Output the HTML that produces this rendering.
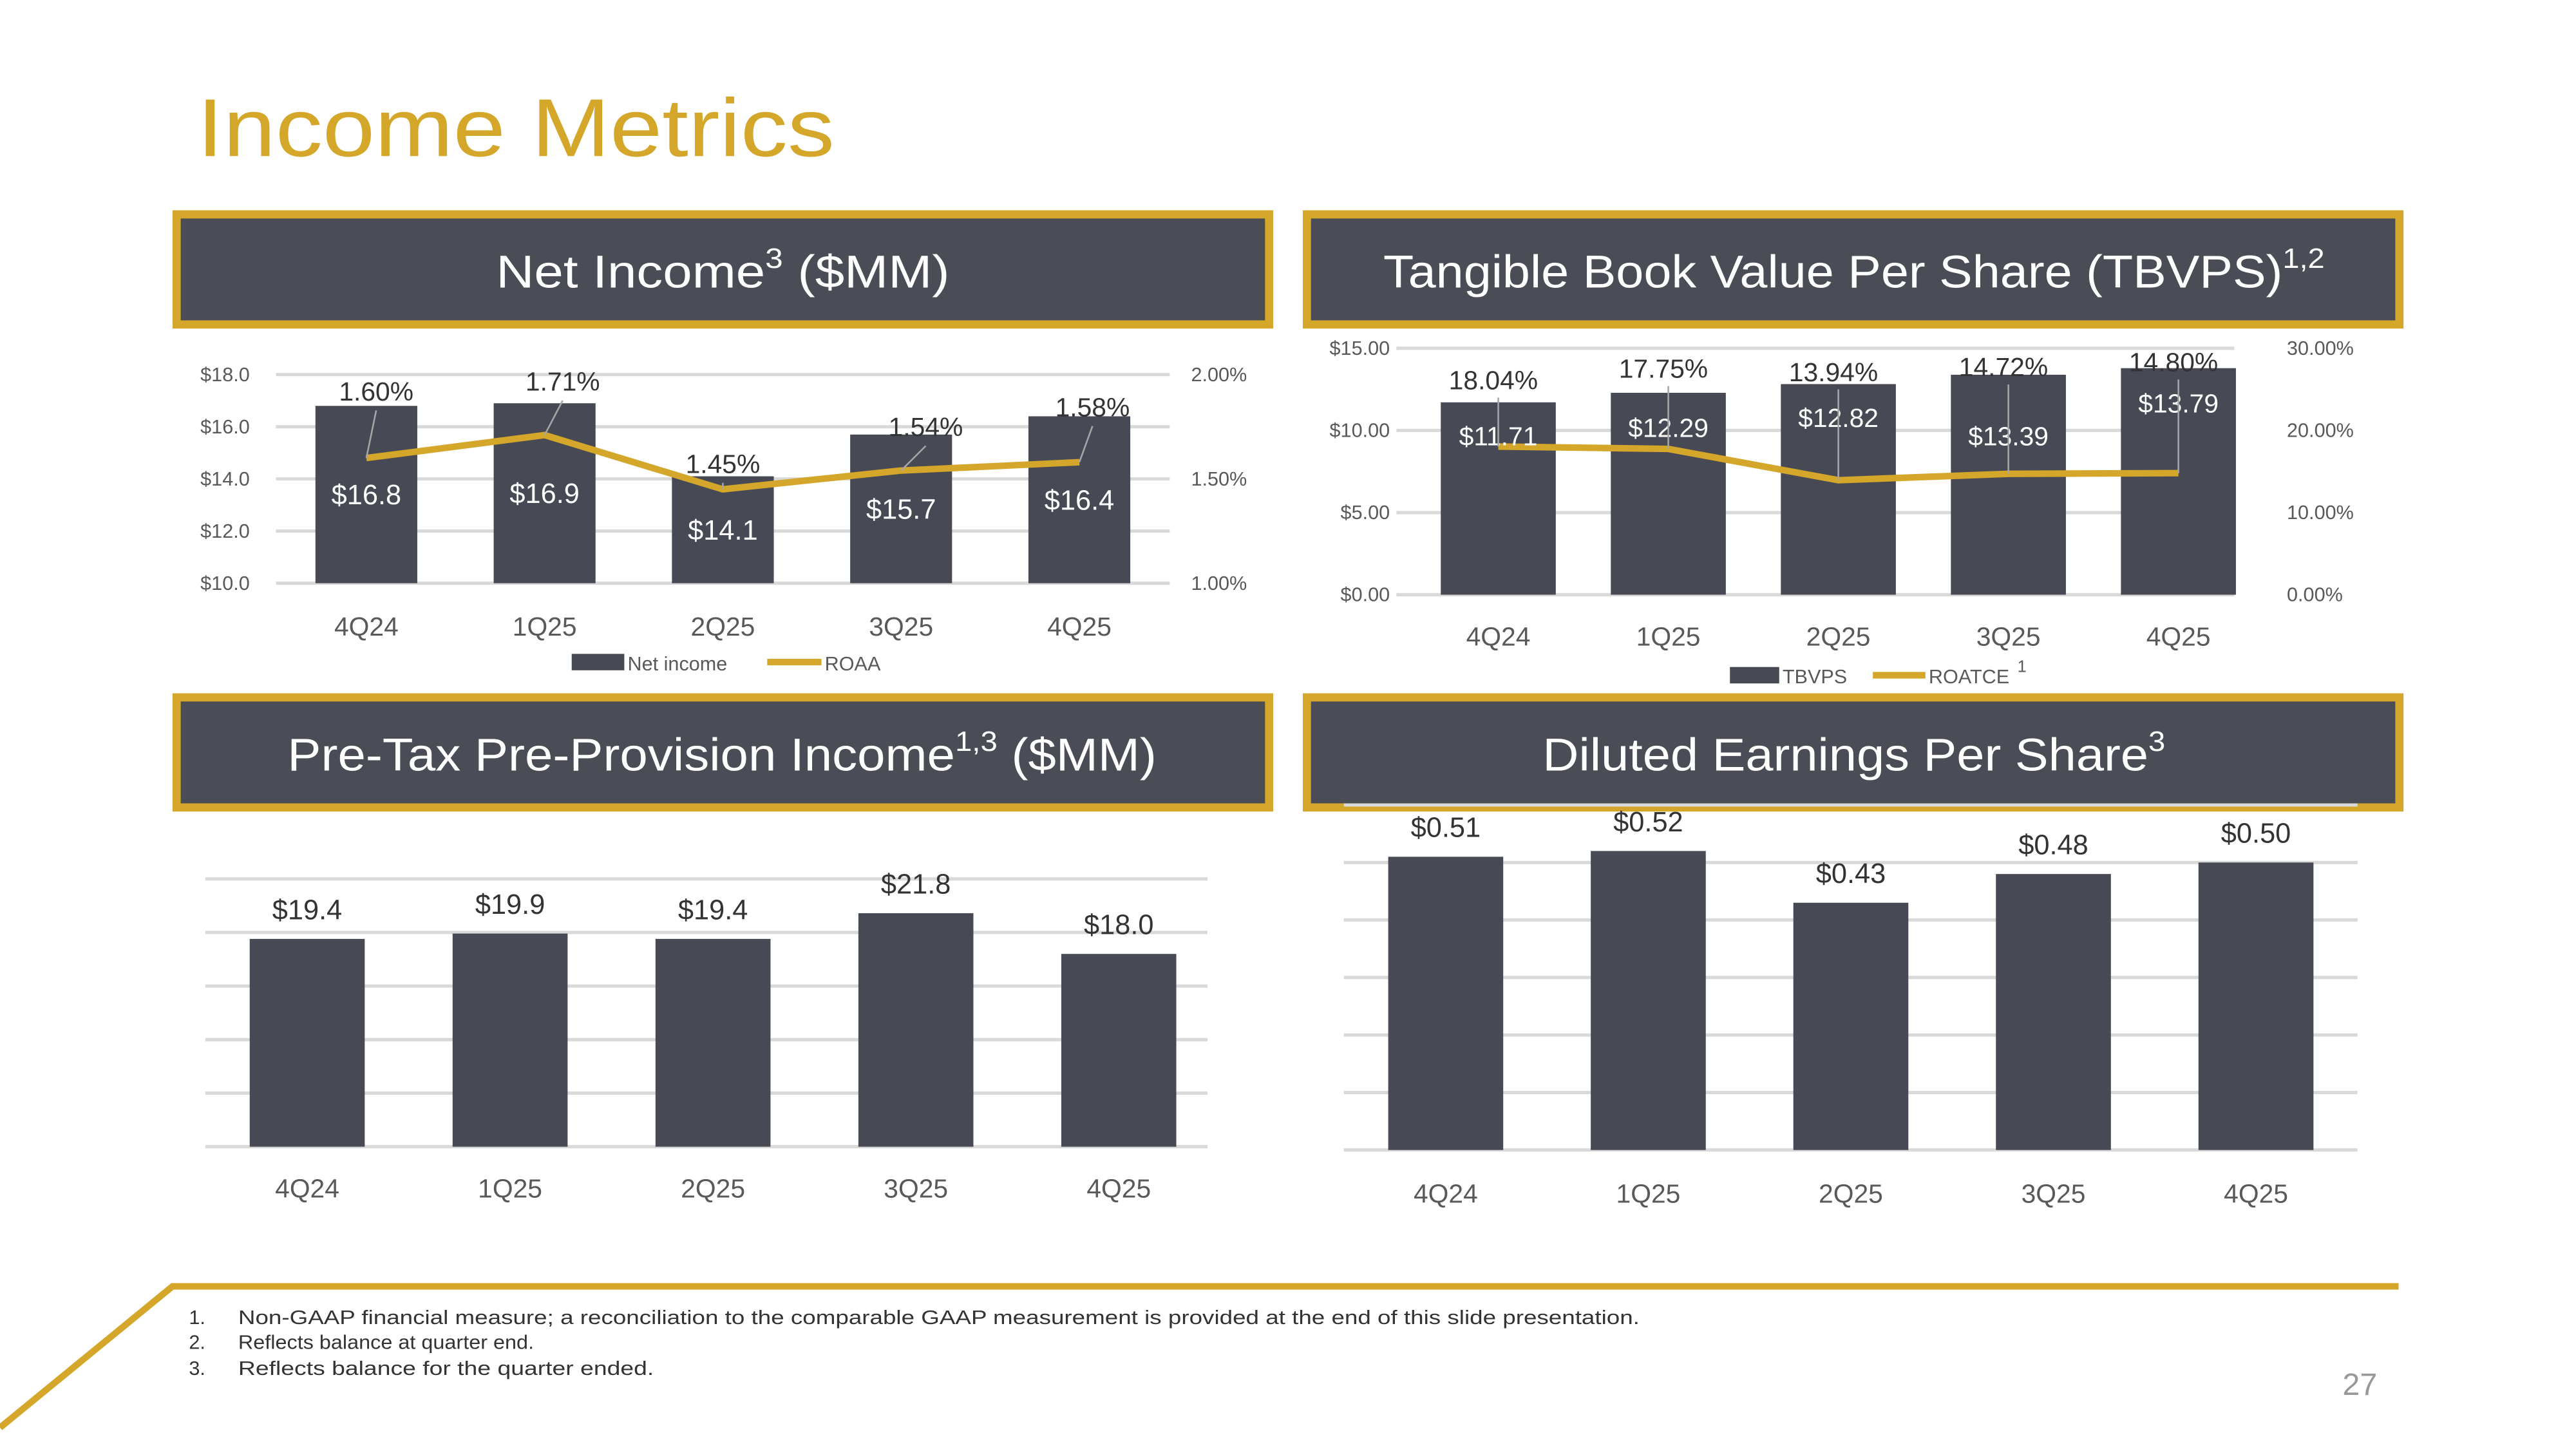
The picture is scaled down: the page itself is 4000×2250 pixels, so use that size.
<!DOCTYPE html>
<html><head><meta charset="utf-8">
<style>
html,body{margin:0;padding:0;background:#fff;}
svg{display:block;}
text{font-family:"Liberation Sans",sans-serif;}
</style></head>
<body>
<svg id="slide" width="4000" height="2250" viewBox="0 0 1568 882" xmlns="http://www.w3.org/2000/svg">
<text x="120" y="95" font-size="50" fill="#D4A62A" textLength="388" lengthAdjust="spacingAndGlyphs">Income Metrics</text>

<g>
<rect x="107.5" y="130.5" width="665" height="67" fill="#4A4D55" stroke="#D4A62A" stroke-width="5"/>
<text x="302" y="175" font-size="28" fill="#fff" textLength="276" lengthAdjust="spacingAndGlyphs">Net Income<tspan font-size="17" dy="-12">3</tspan><tspan dy="12"> ($MM)</tspan></text>
</g>
<g>
<rect x="795.5" y="130.5" width="665" height="67" fill="#4A4D55" stroke="#D4A62A" stroke-width="5"/>
<text x="842" y="175" font-size="28" fill="#fff" textLength="573" lengthAdjust="spacingAndGlyphs">Tangible Book Value Per Share (TBVPS)<tspan font-size="17" dy="-12">1,2</tspan></text>
</g>
<g>
<rect x="107.5" y="424.5" width="665" height="67" fill="#4A4D55" stroke="#D4A62A" stroke-width="5"/>
<text x="175" y="469" font-size="28" fill="#fff" textLength="529" lengthAdjust="spacingAndGlyphs">Pre-Tax Pre-Provision Income<tspan font-size="17" dy="-12">1,3</tspan><tspan dy="12"> ($MM)</tspan></text>
</g>
<g>
<rect x="795.5" y="424.5" width="665" height="67" fill="#4A4D55" stroke="#D4A62A" stroke-width="5"/>
<text x="939" y="469" font-size="28" fill="#fff" textLength="379" lengthAdjust="spacingAndGlyphs">Diluted Earnings Per Share<tspan font-size="17" dy="-12">3</tspan></text>
</g>

<g id="c1"></g>
<g id="c2"></g>
<g id="c3"></g>
<g id="c4"></g>

<g>
<polyline points="0,869 105,783 1460,783" fill="none" stroke="#D4A62A" stroke-width="4"/>
<g font-size="12" fill="#333">
<text x="115" y="806">1.</text><text x="145" y="806" textLength="853" lengthAdjust="spacingAndGlyphs">Non-GAAP financial measure; a reconciliation to the comparable GAAP measurement is provided at the end of this slide presentation.</text>
<text x="115" y="821">2.</text><text x="145" y="821" textLength="180" lengthAdjust="spacingAndGlyphs">Reflects balance at quarter end.</text>
<text x="115" y="837">3.</text><text x="145" y="837" textLength="253" lengthAdjust="spacingAndGlyphs">Reflects balance for the quarter ended.</text>
</g>
<text x="1447" y="849" text-anchor="end" font-size="19" fill="#999">27</text>
</g>
</svg>
<script>
const categories = ["4Q24","1Q25","2Q25","3Q25","4Q25"];
const netIncome = [16.8,16.9,14.1,15.7,16.4];
const roaa = [1.60,1.71,1.45,1.54,1.58];
const niTicks = [10,12,14,16,18];
const roaaTicks = [1.0,1.5,2.0];
const tbvps = [11.71,12.29,12.82,13.39,13.79];
const roatce = [18.04,17.75,13.94,14.72,14.80];
const tbTicks = [0,5,10,15];
const roatceTicks = [0,10,20,30];
const pretax = [19.4,19.9,19.4,21.8,18.0];
const ptGrid = [0,5,10,15,20,25];
const eps = [0.51,0.52,0.43,0.48,0.50];
const epsGrid = [0,0.1,0.2,0.3,0.4,0.5,0.6];

const NS="http://www.w3.org/2000/svg";
const DARK="#474A54", GOLD="#D4A62A", GRID="#D9D9D9", AX="#595959";
function mk(parent,tag,attrs,txt){const e=document.createElementNS(NS,tag);for(const k in attrs)e.setAttribute(k,attrs[k]);if(txt!==undefined)e.textContent=txt;parent.appendChild(e);return e;}
function lin(d0,d1,r0,r1){return v=>r0+(v-d0)*(r1-r0)/(d1-d0);}

// Chart 1
(function(){
 const g=document.getElementById('c1');
 const y=lin(10,18,355,228), y2=lin(1.0,2.0,355,228);
 const xs=i=>223+i*108.5, bw=62;
 niTicks.forEach(t=>{
  const l=mk(g,'line',{x1:168,x2:712,y1:y(t),y2:y(t),stroke:GRID,'stroke-width':2});
  
  
  const tx=mk(g,'text',{x:152,y:y(t)+4,'text-anchor':'end','font-size':12,fill:AX},'$'+t.toFixed(1));
  
  
 });
 roaaTicks.forEach(t=>{
  const tx=mk(g,'text',{x:725,y:y2(t)+4,'font-size':12,fill:AX},t.toFixed(2)+'%');
  
  
 });
 netIncome.forEach((v,i)=>{
  const r=mk(g,'rect',{x:xs(i)-bw/2,y:y(v),width:bw,height:y(10)-y(v),fill:DARK});
  
  
  const t=mk(g,'text',{x:xs(i),y:(y(v)+y(10))/2+6,'text-anchor':'middle','font-size':17,fill:'#fff'},'$'+v.toFixed(1));
  
  
  const c=mk(g,'text',{x:xs(i),y:387,'text-anchor':'middle','font-size':16,fill:AX},categories[i]);
  
  
 });
 const pts=roaa.map((v,i)=>xs(i)+','+y2(v)).join(' ');
 const pl=mk(g,'polyline',{points:pts,fill:'none',stroke:GOLD,'stroke-width':4});
 
 
 const off=[[6,-35],[11,-27],[0,-10],[15,-21],[8,-28]];
 roaa.forEach((v,i)=>{
  const lx=xs(i)+off[i][0], ly=y2(v)+off[i][1];
  mk(g,'line',{x1:xs(i),y1:y2(v),x2:lx,y2:ly+6,stroke:'#A6A6A6','stroke-width':1});
  const t=mk(g,'text',{x:lx,y:ly,'text-anchor':'middle','font-size':16,fill:'#333'},v.toFixed(2)+'%');
  
  
 });
 const lg=mk(g,'g',{});
 
 
 mk(lg,'rect',{x:348,y:398,width:32,height:10,fill:DARK});
 mk(lg,'text',{x:382,y:408,'font-size':12,fill:AX},'Net income');
 mk(lg,'line',{x1:467,x2:500,y1:403,y2:403,stroke:GOLD,'stroke-width':4});
 mk(lg,'text',{x:502,y:408,'font-size':12,fill:AX},'ROAA');
})();

// Chart 2
(function(){
 const g=document.getElementById('c2');
 const y=lin(0,15,362,212), y2=lin(0,30,362,212);
 const xs=i=>912+i*103.5, bw=70;
 tbTicks.forEach(t=>{
  const l=mk(g,'line',{x1:850,x2:1360,y1:y(t),y2:y(t),stroke:GRID,'stroke-width':2});
  
  
  const tx=mk(g,'text',{x:846,y:y(t)+4,'text-anchor':'end','font-size':12,fill:AX},'$'+t.toFixed(2));
  
  
 });
 roatceTicks.forEach(t=>{
  const tx=mk(g,'text',{x:1392,y:y2(t)+4,'font-size':12,fill:AX},t.toFixed(2)+'%');
  
  
 });
 tbvps.forEach((v,i)=>{
  const r=mk(g,'rect',{x:xs(i)-bw/2,y:y(v),width:bw,height:y(0)-y(v),fill:DARK});
  
  
  const c=mk(g,'text',{x:xs(i),y:393,'text-anchor':'middle','font-size':16,fill:AX},categories[i]);
  
  
 });
 const pts=roatce.map((v,i)=>xs(i)+','+y2(v)).join(' ');
 const pl=mk(g,'polyline',{points:pts,fill:'none',stroke:GOLD,'stroke-width':4});
 
 
 const valY=[271,266,260,271,251];
 tbvps.forEach((v,i)=>{
  const t=mk(g,'text',{x:xs(i),y:valY[i],'text-anchor':'middle','font-size':16,fill:'#fff'},'$'+v.toFixed(2));
  
  
 });
 const lblY=[237,230,232,229,226];
 roatce.forEach((v,i)=>{
  const ly=lblY[i];
  mk(g,'line',{x1:xs(i),y1:y2(v),x2:xs(i),y2:ly+5,stroke:'#A6A6A6','stroke-width':1});
  const t=mk(g,'text',{x:xs(i)-3,y:ly,'text-anchor':'middle','font-size':16,fill:'#333'},v.toFixed(2)+'%');
  
  
 });
 const lg=mk(g,'g',{});
 
 
 mk(lg,'rect',{x:1053,y:406,width:30,height:10,fill:DARK});
 mk(lg,'text',{x:1085,y:416,'font-size':12,fill:AX},'TBVPS');
 mk(lg,'line',{x1:1140,x2:1172,y1:411,y2:411,stroke:GOLD,'stroke-width':4});
 mk(lg,'text',{x:1174,y:416,'font-size':12,fill:AX},'ROATCE');
 mk(lg,'text',{x:1228,y:409,'font-size':10,fill:AX},'1');
})();

// Chart 3
(function(){
 const g=document.getElementById('c3');
 const y=lin(0,25,698,535);
 const xs=i=>187+i*123.5, bw=70;
 ptGrid.forEach(t=>{
  const l=mk(g,'line',{x1:125,x2:735,y1:y(t),y2:y(t),stroke:GRID,'stroke-width':2});
  
  
 });
 pretax.forEach((v,i)=>{
  const r=mk(g,'rect',{x:xs(i)-bw/2,y:y(v),width:bw,height:y(0)-y(v),fill:DARK});
  
  
  const t=mk(g,'text',{x:xs(i),y:y(v)-12,'text-anchor':'middle','font-size':17,fill:'#333'},'$'+v.toFixed(1));
  
  
  const c=mk(g,'text',{x:xs(i),y:729,'text-anchor':'middle','font-size':16,fill:AX},categories[i]);
  
  
 });
})();

// Chart 4
(function(){
 const g=document.getElementById('c4');
 const y=lin(0,0.6,700,490);
 const xs=i=>880+i*123.3, bw=70;
 epsGrid.forEach(t=>{
  const l=mk(g,'line',{x1:818,x2:1435,y1:y(t),y2:y(t),stroke:GRID,'stroke-width':2});
  
  
 });
 eps.forEach((v,i)=>{
  const r=mk(g,'rect',{x:xs(i)-bw/2,y:y(v),width:bw,height:y(0)-y(v),fill:DARK});
  
  
  const t=mk(g,'text',{x:xs(i),y:y(v)-12,'text-anchor':'middle','font-size':17,fill:'#333'},'$'+v.toFixed(2));
  
  
  const c=mk(g,'text',{x:xs(i),y:732,'text-anchor':'middle','font-size':16,fill:AX},categories[i]);
  
  
 });
})();
</script>
</body></html>
